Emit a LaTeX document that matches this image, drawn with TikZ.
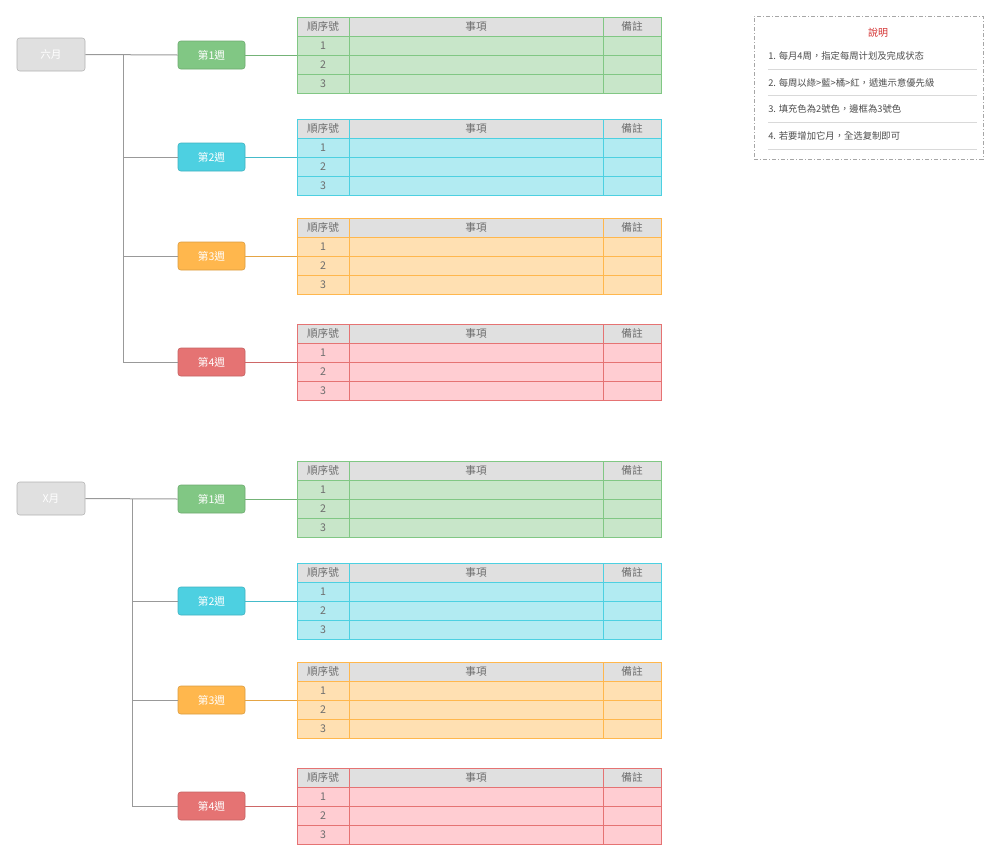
\documentclass[tikz,border=0pt]{standalone}
\usepackage{fontspec}
\setmainfont{Noto Sans CJK TC}
\usetikzlibrary{positioning,calc}
% week colours: line (2nd) and fill
\definecolor{wkline1}{HTML}{81C784}
\definecolor{wkline2}{HTML}{4DD0E1}
\definecolor{wkline3}{HTML}{FFB74D}
\definecolor{wkline4}{HTML}{E57373}
\definecolor{wkfill1}{HTML}{C8E6C9}
\definecolor{wkfill2}{HTML}{B2EBF2}
\definecolor{wkfill3}{HTML}{FFE0B2}
\definecolor{wkfill4}{HTML}{FFCDD2}
\definecolor{hdrfill}{HTML}{E0E0E0}
\definecolor{txtgray}{HTML}{6E6E6E}
\definecolor{notered}{HTML}{D32F2F}
\tikzset{month/.style={draw=black!30,fill=hdrfill,rounded corners=2pt,text=white,font=\fontsize{8}{8}\selectfont,minimum width=51pt,minimum height=24.75pt,inner sep=0pt}}
\tikzset{week/.style={rounded corners=2pt,text=white,font=\fontsize{8}{8}\selectfont,minimum width=50.25pt,minimum height=21pt,inner sep=0pt}}
\tikzset{cell/.style={inner sep=0pt,outer sep=0pt,minimum height=14.25pt,line width=0.6pt,text=txtgray,font=\fontsize{8}{8}\selectfont}}
\tikzset{hcell/.style={cell,fill=hdrfill}}
\tikzset{branch/.style={draw=black!40,line width=0.75pt}}
\tikzset{notebox/.style={draw=black!35,dash pattern=on 3pt off 1.5pt on 0.75pt off 1.5pt,line width=0.6pt}}
\tikzset{noteitem/.style={anchor=west,inner sep=0pt,text=black!70,font=\fontsize{7}{7}\selectfont}}

\begin{document}
\begin{tikzpicture}[x=0.75pt,y=-0.75pt]
  \useasboundingbox (0,0) rectangle (1000,861);

  \foreach \g/\dy/\jx/\mname in {1/0/123/六月,2/444/132/X月}{
    \node[month] (m\g) at (51,54.5+\dy) {\mname};
    \coordinate (j\g) at (\jx,55+\dy);
    \foreach \i/\ty in {1/17,2/119,3/218,4/324}{
      % week box
      \node[week,fill=wkline\i,draw=wkline\i!85!black] (w\g\i) at (211.5,\ty+38+\dy) {第\i 週};
      % header row
      \node[hcell,draw=wkline\i,minimum width=39pt,anchor=north west] (c\g\i-0-1) at (297,\ty+\dy) {順序號};
      \node[hcell,draw=wkline\i,minimum width=190.5pt,right=0pt of c\g\i-0-1] (c\g\i-0-2) {事項};
      \node[hcell,draw=wkline\i,minimum width=43.5pt,right=0pt of c\g\i-0-2] (c\g\i-0-3) {備註};
      % rows
      \foreach \r [count=\p from 0] in {1,2,3}{
        \node[cell,fill=wkfill\i,draw=wkline\i,minimum width=39pt,below=0pt of c\g\i-\p-1] (c\g\i-\r-1) {\r};
        \node[cell,fill=wkfill\i,draw=wkline\i,minimum width=190.5pt,right=0pt of c\g\i-\r-1] (c\g\i-\r-2) {};
        \node[cell,fill=wkfill\i,draw=wkline\i,minimum width=43.5pt,right=0pt of c\g\i-\r-2] (c\g\i-\r-3) {};
      }
      \draw[draw=wkline\i!90!black,line width=0.75pt] (w\g\i.east) -- (c\g\i-1-1.south west);
    }
    % month to weeks
    \draw[branch] (m\g.east) -- (w\g1.west);
    \foreach \i in {2,3,4}
      \draw[branch] (j\g) |- (w\g\i.west);
  }

  % notes
  \node[notebox,minimum width=171.75pt,minimum height=107.25pt] (note) at (868.5,87.5) {};
  \node[text=notered,font=\fontsize{7.5}{7.5}\selectfont] (notetitle) at (878,33) {說明};
  \foreach \k/\txt in {0/{1. 每月4周，指定每周计划及完成状态},1/{2. 每周以綠>藍>橘>紅，遞進示意優先級},2/{3. 填充色為2號色，邊框為3號色},3/{4. 若要增加它月，全选复制即可}}{
    \node[noteitem] (n\k) at (768,56+26.7*\k) {\txt};
    \draw[black!15,line width=0.6pt] (768,69+26.7*\k) -- (977,69+26.7*\k);
  }
\end{tikzpicture}
\end{document}
